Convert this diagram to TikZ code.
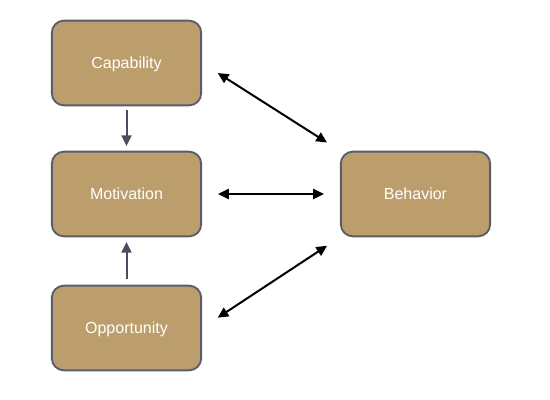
\documentclass[tikz,border=0pt]{standalone}
\usepackage{fontspec}
\setmainfont{Liberation Sans}
\usetikzlibrary{positioning, arrows.meta}

\definecolor{boxfill}{HTML}{BC9E6C}
\definecolor{boxline}{HTML}{5A5B6E}
\definecolor{uparrow}{HTML}{4A4C60}

\begin{document}
\begin{tikzpicture}[x=0.75pt, y=-0.75pt,
        block/.style={draw=boxline, line width=1.4pt, fill=boxfill, rounded corners=9pt,
            minimum width=112pt, minimum height=63.5pt, text=white, text height=8.6pt, text depth=0pt,
            font=\fontsize{12}{14}\selectfont},
        link/.style={line width=1.5pt, {Triangle[length=8pt,width=7.5pt]}-{Triangle[length=8pt,width=7.5pt]}},
        feed/.style={line width=1.5pt, color=uparrow, -{Triangle[length=8pt,width=7.5pt]}}]
            \useasboundingbox (0,0) rectangle (550,400);

            \node[block] (cap) at (126.5,63) {Capability};
            \node[block] (mot) at (126.5,194) {Motivation};
            \node[block] (opp) at (126.5,328) {Opportunity};
            \node[block] (beh) at (415.5,194) {Behavior};

            \draw[feed, shorten <=3pt, shorten >=3.5pt] (cap.south) -- (mot.north);
            \draw[feed, shorten <=4.5pt, shorten >=3.5pt] (opp.north) -- (mot.south);

            \draw[link, shorten <=14pt, shorten >=11.5pt] (cap.east) -- (beh.north west);
            \draw[link, shorten <=12pt, shorten >=12pt] (mot.east) -- (beh.west);
            \draw[link, shorten <=14pt, shorten >=11.5pt] (opp.east) -- (beh.south west);
        \end{tikzpicture}
\end{document}
